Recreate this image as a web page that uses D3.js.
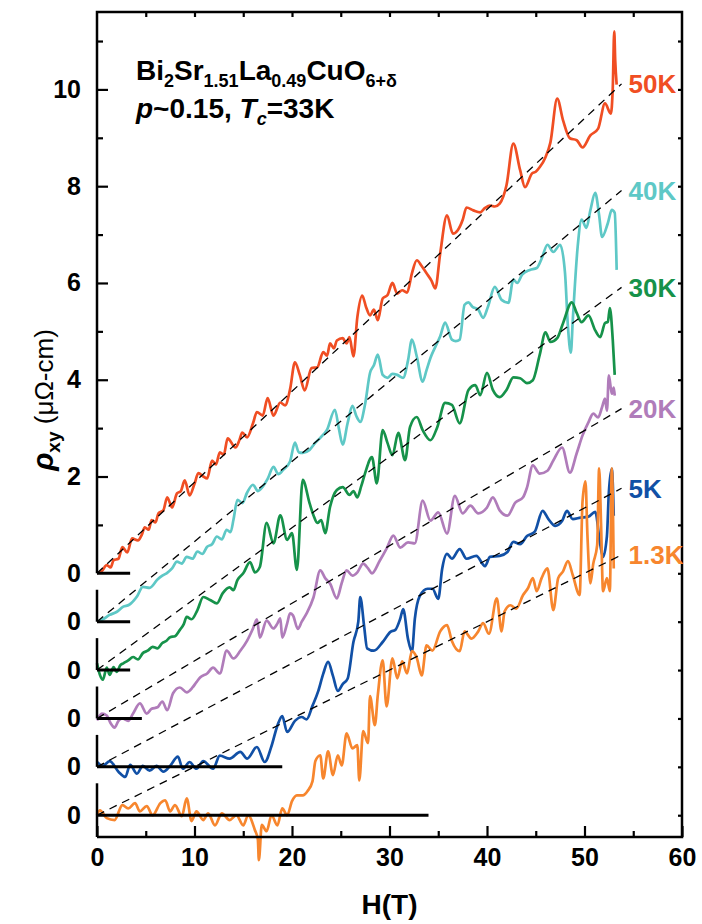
<!DOCTYPE html>
<meta charset="utf-8">
<title>Hall resistivity</title>
<style>
body {
  margin: 0;
  background: #fff;
}
svg text {
  font-family: "Liberation Sans", Arial, sans-serif;
  font-weight: bold;
}
.frame {
  fill: none;
  stroke: #000;
  stroke-width: 2.5px;
}
.curve {
  fill: none;
  stroke-width: 2.7px;
  stroke-linejoin: round;
}
.fit {
  stroke: #000;
  stroke-width: 1.3px;
  stroke-dasharray: 8,6;
}
.zero {
  stroke: #000;
  stroke-width: 3px;
}
</style>
<body>
<script src="https://d3js.org/d3.v7.min.js"></script>
<script>

// [H (T), rho_xy (uOhm-cm) measured from each curve's own zero]
var rho50K = [[0,0],[0.5,0.05],[1.0,0.17],[1.4,0.12],[1.7,0.27],[2.2,0.3],[2.6,0.54],[3.1,0.43],[3.6,0.72],[4.2,0.68],[4.6,0.8],[4.9,0.95],[5.3,0.9],[5.6,1.1],[6.0,1.05],[6.3,1.24],[6.8,1.3],[7.2,1.57],[7.7,1.36],[8.2,1.65],[8.6,1.7],[9.0,1.92],[9.5,1.61],[10.0,1.85],[10.4,2.07],[10.9,2.0],[11.3,1.96],[11.8,2.33],[12.2,2.25],[12.6,2.5],[13.0,2.45],[13.4,2.79],[14.2,2.6],[14.6,2.75],[14.9,2.91],[15.4,2.81],[16.0,3.1],[16.4,3.33],[17.0,3.26],[17.5,3.62],[18.1,3.26],[18.8,3.53],[19.3,3.47],[19.8,3.8],[20.3,4.36],[20.8,4.1],[21.3,3.78],[22.0,4.24],[22.6,4.26],[23.2,4.57],[23.6,4.5],[23.9,4.75],[24.3,4.65],[24.6,4.81],[25.2,4.86],[25.6,4.75],[25.9,4.88],[26.3,4.48],[26.7,5.29],[27.2,5.74],[27.6,5.5],[28.0,5.33],[28.4,5.45],[28.8,5.23],[29.3,5.68],[29.8,5.75],[30.3,6.0],[30.8,5.78],[31.3,5.85],[31.8,5.8],[32.3,6.2],[32.8,6.47],[33.3,6.35],[33.8,6.2],[34.3,6.05],[34.7,5.89],[35.2,6.61],[35.9,7.4],[36.5,7.02],[37.0,7.09],[37.5,7.3],[37.9,7.56],[38.6,7.5],[39.3,7.46],[39.8,7.55],[40.3,7.6],[40.8,7.58],[41.3,7.64],[42.0,8.02],[42.7,8.88],[43.4,8.33],[43.9,7.98],[44.6,8.26],[45.0,8.3],[45.4,8.39],[46.0,8.6],[46.5,8.9],[47.2,9.81],[47.8,9.36],[48.5,8.99],[49.2,8.95],[49.8,8.8],[50.6,9.05],[51.4,9.19],[52.1,9.71],[52.7,9.5],[52.9,10.04],[53.05,11.2],[53.15,10.6],[53.3,10.1]];

var rho40K = [[0,0],[0.6,0.05],[1.3,0.14],[2.0,0.2],[2.7,0.31],[3.3,0.35],[4.1,0.52],[4.7,0.72],[5.4,0.7],[6.2,0.87],[6.7,0.95],[7.2,1.01],[7.7,1.1],[8.2,1.24],[8.7,1.2],[9.2,1.34],[9.8,1.3],[10.3,1.45],[10.8,1.4],[11.3,1.55],[11.8,1.6],[12.3,1.76],[12.8,1.7],[13.3,1.9],[13.7,1.85],[14.0,2.11],[14.4,2.52],[14.9,2.45],[15.4,2.67],[16.0,2.83],[16.5,2.7],[17.0,2.79],[17.5,2.95],[18.1,3.2],[18.6,3.05],[19.1,3.14],[19.8,3.31],[20.3,3.7],[20.7,3.5],[21.1,3.49],[21.8,3.55],[22.4,3.7],[22.9,3.8],[23.6,3.97],[24.4,4.38],[24.8,4.0],[25.2,3.66],[25.7,4.1],[26.2,4.46],[26.6,4.25],[27.0,4.13],[27.5,4.5],[28.0,5.14],[28.4,5.3],[28.8,5.52],[29.3,5.1],[29.8,5.04],[30.3,5.12],[30.8,5.1],[31.4,5.04],[31.9,5.4],[32.3,5.83],[32.8,5.48],[33.4,4.96],[33.8,5.2],[34.2,5.45],[34.7,5.68],[35.2,5.9],[35.7,6.18],[36.4,5.83],[36.8,5.8],[37.2,5.83],[37.7,6.55],[38.1,6.6],[38.5,6.51],[39.1,6.45],[39.6,6.28],[40.1,6.51],[40.8,6.92],[41.5,6.65],[42.2,6.59],[42.7,7.07],[43.1,7.0],[43.6,7.17],[44.4,7.27],[45.1,7.31],[45.6,7.5],[46.2,7.79],[46.8,7.64],[47.5,7.79],[48.0,7.21],[48.3,6.1],[48.6,5.56],[48.8,6.24],[49.3,7.75],[49.7,8.31],[50.2,8.14],[50.6,8.5],[51.1,8.86],[51.5,8.4],[51.8,7.95],[52.4,8.24],[52.8,8.51],[53.1,8.45],[53.3,7.27]];

var rho30K = [[0,0.14],[0.3,-0.1],[0.6,-0.2],[1.0,0.05],[1.3,-0.1],[1.7,0.06],[2.0,-0.04],[2.4,0.1],[2.7,0.14],[3.2,0.2],[3.7,0.27],[4.2,0.22],[4.7,0.35],[5.2,0.4],[5.7,0.48],[6.2,0.45],[6.7,0.56],[7.1,0.6],[7.5,0.68],[8.0,0.7],[8.5,0.83],[8.9,0.95],[9.2,1.1],[9.7,1.05],[10.3,1.24],[10.9,1.51],[11.6,1.45],[12.3,1.38],[12.9,1.59],[13.6,1.71],[14.0,1.65],[14.4,1.86],[15.0,2.0],[15.7,2.23],[16.2,2.02],[16.7,2.13],[17.4,3.04],[18.1,2.62],[18.8,3.2],[19.5,2.69],[20.0,2.83],[20.5,2.07],[21.1,3.93],[21.8,3.45],[22.2,3.2],[22.6,3.04],[23.0,3.1],[23.4,2.83],[23.9,3.37],[24.6,3.72],[25.2,3.78],[25.9,3.62],[26.3,3.7],[26.7,3.57],[27.1,3.8],[27.5,4.07],[28.2,4.4],[28.7,3.86],[29.3,4.96],[29.8,4.69],[30.3,4.44],[30.9,4.9],[31.6,4.34],[32.1,5.02],[32.8,5.23],[33.4,4.96],[34.2,4.75],[34.9,5.02],[35.7,5.52],[36.4,5.48],[37.2,5.1],[38.1,5.79],[38.8,5.89],[39.3,5.68],[40.0,6.14],[40.6,5.79],[41.3,5.64],[42.0,5.79],[42.7,6.05],[43.4,6.03],[44.1,5.93],[44.7,5.99],[45.4,6.51],[46.0,6.98],[46.5,6.78],[47.2,6.86],[47.8,7.17],[48.7,7.6],[49.2,7.38],[49.7,7.19],[50.4,7.33],[51.1,7.02],[51.6,6.88],[52.1,7.17],[52.4,7.2],[52.6,7.48],[52.9,6.82],[53.1,6.1]];

var rho20K = [[0,-0.04],[0.5,0.1],[1.0,0.06],[1.4,-0.1],[1.8,-0.19],[2.2,-0.05],[2.6,0.0],[3.2,-0.05],[3.7,0.1],[4.4,0.31],[5.1,0.1],[5.6,0.2],[6.2,0.23],[6.7,0.35],[7.2,0.17],[7.8,0.52],[8.5,0.64],[9.2,0.54],[9.8,0.64],[10.2,0.75],[10.6,0.85],[11.3,0.93],[11.9,1.05],[12.6,0.93],[13.3,1.4],[14.0,1.24],[14.7,1.4],[15.4,1.61],[16.0,1.86],[16.4,2.05],[16.7,1.67],[17.4,2.02],[18.1,1.86],[18.5,1.96],[18.8,2.07],[19.0,1.67],[19.5,1.96],[19.8,2.17],[20.1,2.13],[20.6,1.85],[21.0,2.0],[21.5,2.17],[22.2,2.5],[22.9,3.06],[23.4,2.9],[23.9,2.79],[24.6,2.48],[25.1,2.8],[25.6,3.06],[26.2,2.95],[26.7,3.02],[27.3,3.2],[27.8,3.1],[28.2,3.0],[29.0,3.26],[29.7,3.51],[30.4,3.78],[31.1,3.53],[31.9,3.64],[32.6,3.62],[33.4,4.5],[34.2,4.09],[35.0,4.26],[35.9,3.82],[36.7,4.6],[37.5,4.24],[38.3,4.4],[39.1,4.24],[40.0,4.36],[40.6,4.57],[41.3,4.3],[42.1,4.19],[42.9,4.46],[43.7,4.57],[44.1,4.77],[44.7,5.23],[45.4,5.06],[46.2,5.12],[46.8,5.33],[47.7,5.6],[48.5,5.08],[49.2,5.48],[49.8,5.85],[50.4,6.12],[50.9,6.3],[51.4,6.22],[51.8,6.43],[52.1,6.61],[52.3,6.36],[52.5,7.09],[52.8,6.71],[53.0,6.84],[53.1,6.67]];

var rho5K = [[0,0.1],[0.6,0.02],[1.3,0.12],[2.2,-0.1],[2.9,-0.21],[3.4,0.04],[4.1,-0.14],[4.7,0.02],[5.4,-0.08],[6.1,0.02],[6.8,-0.1],[7.5,0.02],[8.3,0.21],[8.8,-0.04],[9.5,0.1],[10.2,-0.04],[10.9,0.12],[11.9,-0.04],[12.6,0.23],[13.6,0.17],[14.7,0.31],[15.4,0.17],[16.4,0.41],[17.2,0.1],[17.9,0.43],[18.5,0.85],[19.0,1.05],[19.5,0.72],[20.3,0.95],[21.0,1.03],[21.5,0.98],[22.1,1.26],[22.7,1.57],[23.2,1.92],[23.7,2.17],[24.2,1.88],[24.7,1.57],[25.2,1.71],[25.7,1.82],[26.3,2.58],[26.8,3.0],[27.0,3.51],[27.4,2.9],[27.7,2.45],[28.4,2.4],[29.3,2.58],[30.1,2.79],[30.6,2.83],[31.1,3.06],[31.4,3.26],[31.9,2.64],[32.3,2.38],[32.6,3.06],[33.1,3.53],[33.9,3.68],[34.4,3.68],[35.0,3.47],[35.4,4.09],[35.9,4.4],[36.4,4.3],[37.2,4.5],[37.9,4.3],[38.9,4.36],[39.8,4.15],[40.3,4.34],[41.3,4.36],[42.1,4.44],[42.7,4.65],[43.4,4.6],[44.1,4.77],[44.9,4.86],[45.7,5.29],[46.3,5.12],[47.0,4.98],[47.7,5.08],[48.2,5.29],[48.8,5.12],[49.6,5.15],[50.4,5.17],[51.1,5.27],[51.6,4.61],[51.9,4.34],[52.3,4.77],[52.5,5.68],[52.8,6.16],[53.0,5.19]];

var rho1p3K = [[0,0],[0.3,0.1],[1.0,-0.06],[1.8,-0.1],[2.6,0.21],[3.2,0.14],[3.9,0.25],[4.4,0.08],[5.1,0.19],[5.7,0.0],[6.5,0.25],[7.0,0.31],[7.5,0.08],[8.0,0.21],[8.7,-0.02],[9.2,0.35],[9.7,-0.12],[10.2,0.08],[10.9,-0.1],[11.4,0.04],[12.1,-0.21],[12.8,0.04],[13.6,-0.1],[14.3,0.0],[15.0,-0.21],[15.5,0.0],[16.2,-0.31],[16.5,-0.5],[16.6,-0.93],[16.9,-0.2],[17.4,-0.33],[17.9,0.0],[18.5,-0.21],[19.0,0.14],[19.5,0.0],[20.0,0.29],[20.5,0.41],[21.1,0.41],[21.6,0.5],[22.1,0.7],[22.4,1.12],[22.9,1.24],[23.2,0.76],[23.7,1.32],[24.2,0.83],[24.7,1.24],[25.1,1.03],[25.6,1.69],[26.2,1.38],[26.7,1.45],[26.9,0.72],[27.3,1.74],[27.8,1.49],[28.0,2.46],[28.5,1.86],[28.8,2.48],[29.3,3.2],[29.7,2.25],[30.3,3.24],[30.8,2.83],[31.3,3.18],[31.8,2.93],[32.3,3.39],[32.8,3.25],[33.3,2.89],[33.8,3.51],[34.4,3.4],[35.2,3.8],[35.9,3.93],[36.4,3.6],[37.2,3.39],[37.7,3.8],[38.4,3.65],[39.1,3.8],[39.6,3.97],[40.2,3.75],[41.0,4.48],[41.5,3.8],[41.8,4.21],[42.4,4.34],[43.0,4.27],[43.7,4.55],[44.2,4.69],[44.7,4.9],[45.1,4.63],[45.6,4.9],[46.2,5.1],[46.8,4.24],[47.3,4.9],[47.8,5.04],[48.3,5.25],[48.8,4.96],[49.5,4.55],[49.8,6.49],[50.1,6.9],[50.3,5.79],[50.6,4.79],[50.9,5.2],[51.3,5.58],[51.5,7.17],[51.7,6.0],[51.9,4.63],[52.3,4.9],[52.6,4.63],[52.8,7.17],[53.0,5.1]];

var tempLabels = ["50K", "40K", "30K", "20K", "5K", "1.3K"];
var tempColors = ["#f04e23", "#5ec8c6", "#16924a", "#b07cba", "#1150a6", "#f7862e"];
var zeroOffsets = [0, -1, -2, -3, -4, -5];
var fitSlopes = [0.188, 0.1656, 0.147, 0.119, 0.107, 0.100];
var fitEndH = 53.8;
var zeroLineEndH = [3.4, 3.4, 3.4, 4.6, 19, 34];
var curves = [rho50K, rho40K, rho30K, rho20K, rho5K, rho1p3K];

var width = 702,
    height = 924;

var x = d3.scaleLinear().domain([0, 60]).range([97, 682]);
var y = d3.scaleLinear().domain([-5.45, 11.6]).range([837, 12]);

var svg = d3.select("body").append("svg")
    .attr("width", width)
    .attr("height", height);

// curves, each shifted down by its own offset
var line = d3.line()
    .curve(d3.curveMonotoneX)
    .x(function(d) { return x(d[0]); })
    .y(function(d) { return y(d[1]); });

curves.forEach(function(c, i) {
  svg.append("path")
      .attr("class", "curve")
      .attr("stroke", tempColors[i])
      .attr("d", line(c.map(function(d) { return [d[0], d[1] + zeroOffsets[i]]; })));
});

// zero lines and linear fits
svg.selectAll(".zero")
    .data(zeroOffsets)
  .enter().append("line")
    .attr("class", "zero")
    .attr("x1", x(0))
    .attr("x2", function(d, i) { return x(zeroLineEndH[i]); })
    .attr("y1", function(d) { return y(d); })
    .attr("y2", function(d) { return y(d); });

svg.selectAll(".fit")
    .data(zeroOffsets)
  .enter().append("line")
    .attr("class", "fit")
    .attr("x1", x(0))
    .attr("y1", function(d) { return y(d); })
    .attr("x2", x(fitEndH))
    .attr("y2", function(d, i) { return y(d + fitSlopes[i] * fitEndH); });

// frame: top, right, bottom full; left broken into pieces
svg.append("path")
    .attr("class", "frame")
    .attr("d", "M" + x(0) + "," + y(0) + "V" + y(11.6) + "H" + x(60) + "V" + y(-5.45) + "H" + x(0));

zeroOffsets.slice(1).forEach(function(k, i) {
  var bottom = (i == zeroOffsets.length - 2) ? -5.45 : k;
  svg.append("line")
      .attr("class", "frame")
      .attr("x1", x(0)).attr("x2", x(0))
      .attr("y1", y(k + 0.66)).attr("y2", y(bottom));
});

function styleAxis(g, size) {
  g.select(".domain").remove();
  g.selectAll("line").attr("stroke-width", 2.2);
  g.attr("font-size", size).attr("font-family", null);
}

svg.append("g")
    .attr("transform", "translate(0," + y(-5.45) + ")")
    .call(d3.axisBottom(x).tickValues(d3.range(0, 61, 10)).tickSize(-11).tickPadding(11))
    .call(styleAxis, 25);

svg.append("g")
    .attr("transform", "translate(0," + y(-5.45) + ")")
    .call(d3.axisBottom(x).tickValues(d3.range(5, 60, 10)).tickSize(-6).tickFormat(""))
    .call(styleAxis, 25);

svg.append("g")
    .attr("transform", "translate(0," + y(11.6) + ")")
    .call(d3.axisTop(x).tickValues(d3.range(5, 60, 5)).tickSize(-5).tickFormat(""))
    .call(styleAxis, 25);

svg.append("g")
    .attr("transform", "translate(" + x(0) + ",0)")
    .call(d3.axisLeft(y).tickValues([2, 4, 6, 8, 10]).tickSize(-11).tickPadding(16))
    .call(styleAxis, 25);

svg.append("g")
    .attr("transform", "translate(" + x(0) + ",0)")
    .call(d3.axisLeft(y).tickValues([1, 3, 5, 7, 9, 11]).tickSize(-6).tickFormat(""))
    .call(styleAxis, 25);

svg.append("g")
    .attr("transform", "translate(" + x(0) + ",0)")
    .call(d3.axisLeft(y).tickValues(zeroOffsets).tickSize(0).tickPadding(16).tickFormat(function() { return "0"; }))
    .call(styleAxis, 25);

svg.append("g")
    .attr("transform", "translate(" + x(60) + ",0)")
    .call(d3.axisRight(y).tickValues(d3.range(-5, 12, 1)).tickSize(-4).tickFormat(""))
    .call(styleAxis, 25);

// temperature labels at the end of each fit
svg.selectAll(".tlabel")
    .data(tempLabels)
  .enter().append("text")
    .attr("class", "tlabel")
    .attr("x", x(fitEndH) + 7)
    .attr("y", function(d, i) { return y(zeroOffsets[i] + fitSlopes[i] * fitEndH); })
    .attr("dy", "0.36em")
    .attr("font-size", 26)
    .attr("fill", function(d, i) { return tempColors[i]; })
    .text(function(d) { return d; });

// axis titles
svg.append("text")
    .attr("x", (x(0) + x(60)) / 2)
    .attr("y", 914)
    .attr("text-anchor", "middle")
    .attr("font-size", 28)
    .text("H(T)");

var yl = svg.append("text")
    .attr("transform", "translate(53,400) rotate(-90)")
    .attr("text-anchor", "middle")
    .attr("font-size", 26);
yl.append("tspan").attr("font-style", "italic").attr("font-size", 30).text("ρ");
yl.append("tspan").attr("font-size", 19).attr("dy", 7).text("xy");
yl.append("tspan").attr("font-weight", "normal").attr("dy", -7).text(" (μΩ-cm)");

// sample title
function addPieces(t, pieces) {
  var shift = 0;
  pieces.forEach(function(p) {
    var ts = t.append("tspan").text(p.text);
    var want = p.sub ? 7 : 0;
    if (want != shift) ts.attr("dy", want - shift);
    shift = want;
    if (p.sub) ts.attr("font-size", 18);
    if (p.italic) ts.attr("font-style", "italic");
  });
}

var t1 = svg.append("text").attr("x", 136).attr("y", 80).attr("font-size", 28);
addPieces(t1, [
  {text: "Bi"}, {text: "2", sub: true}, {text: "Sr"}, {text: "1.51", sub: true},
  {text: "La"}, {text: "0.49", sub: true}, {text: "CuO"}, {text: "6+δ", sub: true}
]);

var t2 = svg.append("text").attr("x", 136).attr("y", 118).attr("font-size", 28);
addPieces(t2, [
  {text: "p", italic: true}, {text: "~0.15, "}, {text: "T", italic: true},
  {text: "c", sub: true, italic: true}, {text: "=33K"}
]);

</script>
</body>
